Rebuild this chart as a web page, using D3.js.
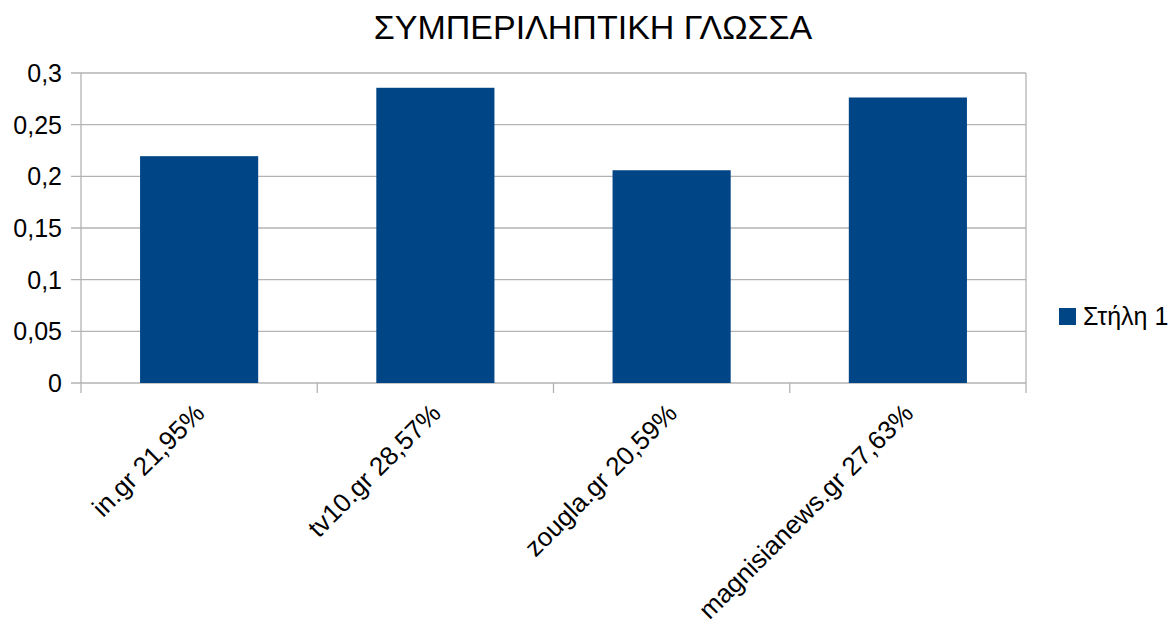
<!DOCTYPE html>
<html>
<head>
<meta charset="utf-8">
<script src="https://cdn.jsdelivr.net/npm/d3@7"></script>
<style>
  body { margin: 0; background: #fff; }
  text { font-family: "Liberation Sans", Arial, sans-serif; fill: #000; }
</style>
</head>
<body>
<div class="container"></div>
<script>
// data
var categories = ["in.gr 21,95%", "tv10.gr 28,57%", "zougla.gr 20,59%", "magnisianews.gr 27,63%"];
var values = [0.2195, 0.2857, 0.2059, 0.2763];
var yTicks = [0, 0.05, 0.1, 0.15, 0.2, 0.25, 0.3];
var seriesName = "Στήλη 1";
var title = "ΣΥΜΠΕΡΙΛΗΠΤΙΚΗ ΓΛΩΣΣΑ";

var w = 1173, h = 623;
var padL = 81, padR = 1026, padT = 73, padB = 383;
var barColor = "#004586", gridColor = "#b3b3b3";

var svg = d3.select(".container").append("svg")
  .attr("width", w).attr("height", h);

var x = d3.scaleBand().domain(categories).range([padL, padR]).paddingInner(0.5).paddingOuter(0.25);
var y = d3.scaleLinear().domain([0, 0.3]).range([padB, padT]);
var fmt = function (d) { return String(d).replace(".", ","); };

// gridlines
svg.append("g").selectAll("line").data(yTicks).enter().append("line")
  .attr("x1", padL - 10).attr("x2", padR)
  .attr("y1", function (d) { return y(d); }).attr("y2", function (d) { return y(d); })
  .attr("stroke", gridColor).attr("stroke-width", 1.3);

// right border + y axis line
svg.append("line").attr("x1", padR).attr("x2", padR).attr("y1", padT).attr("y2", padB + 10)
  .attr("stroke", gridColor).attr("stroke-width", 1.3);
svg.append("line").attr("x1", padL).attr("x2", padL).attr("y1", padT).attr("y2", padB + 10)
  .attr("stroke", gridColor).attr("stroke-width", 1.3);

// category ticks
var stepW = (padR - padL) / categories.length;
svg.append("g").selectAll("line").data(d3.range(1, categories.length))
  .enter().append("line")
  .attr("x1", function (d) { return padL + d * stepW; })
  .attr("x2", function (d) { return padL + d * stepW; })
  .attr("y1", padB).attr("y2", padB + 10)
  .attr("stroke", gridColor).attr("stroke-width", 1.3);

// bars
svg.append("g").selectAll("rect").data(values).enter().append("rect")
  .attr("x", function (d, i) { return x(categories[i]); })
  .attr("width", x.bandwidth())
  .attr("y", function (d) { return y(d); })
  .attr("height", function (d) { return y(0) - y(d); })
  .attr("fill", barColor);

// y labels
svg.append("g").selectAll("text").data(yTicks).enter().append("text")
  .attr("x", 62).attr("y", function (d) { return y(d) + 9; })
  .attr("text-anchor", "end").attr("font-size", 25)
  .text(fmt);

// x labels
svg.append("g").selectAll("text").data(categories).enter().append("text")
  .attr("transform", function (d) {
    return "translate(" + (x(d) + x.bandwidth() / 2 + 7) + "," + (padB + 32) + ") rotate(-45)";
  })
  .attr("text-anchor", "end").attr("font-size", 26)
  .text(function (d) { return d; });

// title
svg.append("text").attr("x", 593).attr("y", 39).attr("text-anchor", "middle")
  .attr("font-size", 34).text(title);

// legend
svg.append("rect").attr("x", 1059).attr("y", 308).attr("width", 17).attr("height", 17).attr("fill", barColor);
svg.append("text").attr("x", 1083).attr("y", 325).attr("font-size", 25).text(seriesName);
</script>
</body>
</html>
